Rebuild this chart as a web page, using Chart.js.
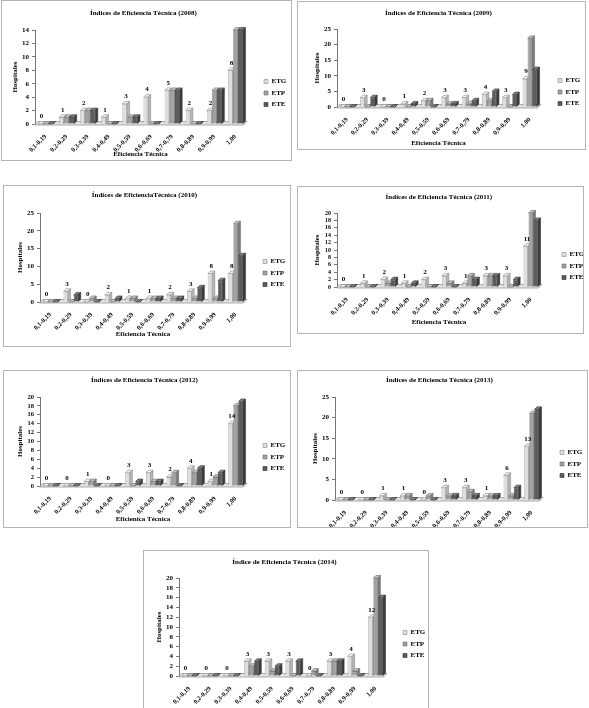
<!DOCTYPE html>
<html><head><meta charset="utf-8">
<script src="https://cdn.jsdelivr.net/npm/chart.js@4.4.0/dist/chart.umd.min.js"></script>
<style>
html,body{margin:0;padding:0;background:#fff;width:589px;height:708px;overflow:hidden;}
body{position:relative;}
.box{position:absolute;box-sizing:border-box;background:#fff;overflow:hidden;border:1px solid #b4b4b4;}
canvas{display:block;}
</style></head><body>
<div id="c2008" class="box"><canvas></canvas></div>
<div id="c2009" class="box"><canvas></canvas></div>
<div id="c2010" class="box"><canvas></canvas></div>
<div id="c2011" class="box"><canvas></canvas></div>
<div id="c2012" class="box"><canvas></canvas></div>
<div id="c2013" class="box"><canvas></canvas></div>
<div id="c2014" class="box"><canvas></canvas></div>
<script>
// ---------- DATA ----------
const categories = ['0,1-0,19','0,2-0,29','0,3-0,39','0,4-0,49','0,5-0,59','0,6-0,69','0,7-0,79','0,8-0,89','0,9-0,99','1,00'];
const seriesNames = ['ETG','ETP','ETE'];

const etg2008 = [0,1,2,1,3,4,5,2,2,8];
const etp2008 = [0,1,2,0,1,0,5,0,5,14];
const ete2008 = [0,1,2,0,1,0,5,0,5,14];

const etg2009 = [0,3,0,1,2,3,3,4,3,9];
const etp2009 = [0,0,0,0,2,1,1,2,0,22];
const ete2009 = [0,3,0,1,0,1,2,5,4,12];

const etg2010 = [0,3,0,2,1,1,2,3,8,8];
const etp2010 = [0,0,1,0,1,1,1,1,1,22];
const ete2010 = [0,2,0,1,0,1,1,4,6,13];

const etg2011 = [0,1,2,1,2,3,1,3,3,11];
const etp2011 = [0,0,1,0,0,1,3,3,0,20];
const ete2011 = [0,0,2,1,0,0,2,3,2,18];

const etg2012 = [0,0,1,0,3,3,2,4,1,14];
const etp2012 = [0,0,1,0,0,1,3,3,2,18];
const ete2012 = [0,0,0,0,1,1,0,4,3,19];

const etg2013 = [0,0,1,1,0,3,3,1,6,13];
const etp2013 = [0,0,0,1,1,1,2,1,1,21];
const ete2013 = [0,0,0,0,0,1,1,1,3,22];

const etg2014 = [0,0,0,3,3,3,0,3,4,12];
const etp2014 = [0,0,0,2,1,0,1,3,1,20];
const ete2014 = [0,0,0,3,2,3,0,3,0,16];

const chartTitles = {
  2008:'Índices de Eficiencia Técnica (2008)',
  2009:'Índices de Eficiencia Técnica (2009)',
  2010:'Índices de EficienciaTécnica (2010)',
  2011:'Índices de Eficiencia Técnica (2011)',
  2012:'Índices de Eficiencia Técnica (2012)',
  2013:'Índices de Eficiencia Técnica (2013)',
  2014:'Índice de Eficiencia Técnica (2014)'
};
const xAxisTitles = {2008:'Eficiencia Técnica',2009:'Eficiencia Técnica',2010:'Eficiencia Técnica',2011:'Eficiencia Técnica',2012:'Eficienica Técnica',2013:'Eficiencia Técnica',2014:'Eficiencia Técnica'};
const yAxisTitle = 'Hospitales';
const yMaxes = {2008:14,2009:25,2010:25,2011:20,2012:20,2013:25,2014:20};
const ySteps = {2008:2,2009:5,2010:5,2011:2,2012:2,2013:5,2014:2};

// ---------- STYLE / LAYOUT ----------
const FONT = "'Liberation Serif', 'DejaVu Serif', serif";
const FS = 7;            // font size
const LH = FS * 1.2;     // line height
const DEPTH = 2.5;
const LEG_PAD = 4.5;
const colors = [
  {front:'#dedede', top:'#f0f0f0', side:'#b8b8b8', border:'#8a8a8a'},
  {front:'#a2a2a2', top:'#c4c4c4', side:'#7c7c7c', border:'#6a6a6a'},
  {front:'#5c5c5c', top:'#808080', side:'#3c3c3c', border:'#333333'}
];
// page geometry: box l,t,w,h ; canvas height ch ; plot L,T,B,R ; title y ; x-title y ; legend square x / centre y ; y tick font size
const layout = {
  2008:{l:1,t:0,w:291,h:161,ch:161,L:35,T:30,B:124,R:246,titleY:13,xtY:154,LX:264,LY:95,yfs:7},
  2009:{l:297,t:1,w:289,h:149,ch:149,L:337,T:29,B:107,R:540,titleY:13,xtY:143,LX:558,LY:94,yfs:7},
  2010:{l:3,t:185,w:288,h:162,ch:162,L:40,T:213,B:302,R:246,titleY:195,xtY:334,LX:263,LY:275,yfs:7},
  2011:{l:297,t:186,w:287,h:148,ch:148,L:337,T:213,B:287,R:541,titleY:197,xtY:322,LX:562,LY:268,yfs:6},
  2012:{l:3,t:370,w:288,h:158,ch:158,L:40,T:397,B:486,R:246,titleY:380,xtY:519,LX:263,LY:459,yfs:6.5},
  2013:{l:297,t:370,w:291,h:158,ch:178,L:335,T:397,B:500,R:542,titleY:380,xtY:541,LX:560,LY:466,yfs:7},
  2014:{l:143,t:550,w:286,h:170,ch:178,L:179,T:578,B:676,R:386,titleY:562,xtY:721,LX:403,LY:646,yfs:7}
};
const dataByYear = {
  2008:[etg2008,etp2008,ete2008], 2009:[etg2009,etp2009,ete2009], 2010:[etg2010,etp2010,ete2010],
  2011:[etg2011,etp2011,ete2011], 2012:[etg2012,etp2012,ete2012], 2013:[etg2013,etp2013,ete2013],
  2014:[etg2014,etp2014,ete2014]
};

const depthPlugin = {
  id:'depth3d',
  afterLayout(chart){
    const lg = chart.legend, g = chart.$geo;
    if (!lg || !g) return;
    const dx = (g.LX - g.ox) - LEG_PAD - lg.left;
    lg.left += dx; lg.right += dx;
    const dy = (g.LY - g.oy) - (lg.top + lg.bottom) / 2 - 2;
    lg.top += dy; lg.bottom += dy;
  },
  beforeDatasetsDraw(chart){
    const a = chart.chartArea, ctx = chart.ctx, d = DEPTH;
    ctx.save();
    ctx.fillStyle = '#e2e2e2'; ctx.strokeStyle = '#9a9a9a'; ctx.lineWidth = 0.8;
    ctx.beginPath();
    ctx.moveTo(a.left, a.bottom + 1);
    ctx.lineTo(a.right - d, a.bottom + 1);
    ctx.lineTo(a.right + 1, a.bottom - d);
    ctx.lineTo(a.left + d, a.bottom - d);
    ctx.closePath(); ctx.fill(); ctx.stroke();
    ctx.restore();
  },
  beforeDatasetDraw(){ return false; },
  afterDatasetsDraw(chart){
    const ctx = chart.ctx, d = DEPTH;
    chart.data.datasets.forEach((ds, i) => {
      const c = colors[i];
      chart.getDatasetMeta(i).data.forEach(bar => {
        bar.draw(ctx);
        const p = bar.getProps(['x','y','base','width'], true);
        const l = p.x - p.width/2, r = p.x + p.width/2;
        ctx.save();
        ctx.lineWidth = 0.6; ctx.strokeStyle = c.border;
        ctx.fillStyle = c.top;
        ctx.beginPath();
        ctx.moveTo(l, p.y); ctx.lineTo(r, p.y); ctx.lineTo(r + d, p.y - d); ctx.lineTo(l + d, p.y - d);
        ctx.closePath(); ctx.fill(); ctx.stroke();
        ctx.fillStyle = c.side;
        ctx.beginPath();
        ctx.moveTo(r, p.y); ctx.lineTo(r + d, p.y - d); ctx.lineTo(r + d, p.base - d); ctx.lineTo(r, p.base);
        ctx.closePath(); ctx.fill(); ctx.stroke();
        ctx.restore();
      });
    });
    const meta = chart.getDatasetMeta(0);
    const vals = chart.data.datasets[0].data;
    ctx.save();
    ctx.font = 'bold 7px ' + FONT; ctx.fillStyle = '#000';
    ctx.textAlign = 'center'; ctx.textBaseline = 'bottom';
    meta.data.forEach((bar, i) => {
      const p = bar.getProps(['x','y'], true);
      ctx.fillText(String(vals[i]), p.x + d/2, p.y - d - 1.5);
    });
    ctx.restore();
  }
};

function makeChart(year){
  const g = layout[year];
  const box = document.getElementById('c' + year);
  box.style.left = g.l + 'px'; box.style.top = g.t + 'px';
  box.style.width = g.w + 'px'; box.style.height = g.h + 'px';
  const cw = g.w - 2, ch = g.ch;
  const canvas = box.querySelector('canvas');
  canvas.width = cw; canvas.height = ch;
  canvas.style.width = cw + 'px'; canvas.style.height = ch + 'px';
  const ox = g.l + 1, oy = g.t + 1;
  const geo = Object.assign({ox, oy}, g);
  const padTop = 2, padLeft = 2;
  const tPadTop = Math.max(0, (g.titleY - oy) - padTop - LH/2);
  const tPadBottom = Math.max(0, (g.T - oy) - padTop - tPadTop - LH);
  const yWidth = (g.L - ox) - padLeft;
  const yTitlePad = Math.max(0, (g.L - 20 - ox) - padLeft - LH/2);
  const padBottom = Math.max(0, ch - ((g.xtY - oy) + LH/2) - 1);
  const xHeight = ch - padBottom - (g.B - oy);
  const vals = dataByYear[year];
  const datasets = seriesNames.map((name, i) => ({
    label: name,
    data: vals[i],
    backgroundColor: colors[i].front,
    borderColor: colors[i].border,
    borderWidth: 0.6,
    categoryPercentage: 0.74,
    barPercentage: 0.88
  }));
  const chart = new Chart(canvas, {
    type:'bar',
    data:{labels: categories, datasets},
    plugins:[depthPlugin],
    options:{
      responsive:false, animation:false, devicePixelRatio:1,
      layout:{padding:{top:padTop, left:padLeft, right:40, bottom:padBottom}},
      plugins:{
        title:{display:true, text:chartTitles[year], color:'#000',
          font:{family:FONT, size:FS, weight:'bold', lineHeight:1.2},
          padding:{top:tPadTop, bottom:tPadBottom}},
        legend:{position:'right', align:'center',
          labels:{boxWidth:4, boxHeight:4, padding:LEG_PAD, color:'#000',
            font:{family:FONT, size:FS, weight:'bold'}}},
        tooltip:{enabled:false}
      },
      scales:{
        x:{
          grid:{display:false}, border:{display:false},
          ticks:{color:'#000', font:{family:FONT, size:6.5, weight:'bold'}, minRotation:45, maxRotation:45, padding:1, autoSkip:false},
          title:{display:true, text:xAxisTitles[year], color:'#000', font:{family:FONT, size:FS, weight:'bold', lineHeight:1.2}, padding:{top:0, bottom:1}},
          afterFit(s){ s.height = xHeight; }
        },
        y:{
          min:0, max:yMaxes[year],
          grid:{drawOnChartArea:false, drawTicks:true, tickLength:3, color:'#777'},
          border:{display:true, color:'#777', width:1},
          ticks:{stepSize:ySteps[year], autoSkip:false, color:'#000', padding:3, font:{family:FONT, size:g.yfs, weight:'bold'}},
          title:{display:true, text:yAxisTitle, color:'#000', font:{family:FONT, size:FS, weight:'bold', lineHeight:1.2}, padding:{top:yTitlePad, bottom:0}},
          afterFit(s){ s.width = yWidth; }
        }
      }
    }
  });
  chart.$geo = geo;
  // calibrate right edge of the plot area through the layout padding
  for (let k = 0; k < 2; k++) {
    const diff = chart.chartArea.right - (g.R - ox);
    if (Math.abs(diff) <= 0.3) break;
    chart.options.layout.padding.right = Math.max(0, chart.options.layout.padding.right + diff);
    chart.update('none');
  }
  chart.update('none');
  return chart;
}
[2008,2009,2010,2011,2012,2013,2014].forEach(makeChart);
</script>
</body></html>
